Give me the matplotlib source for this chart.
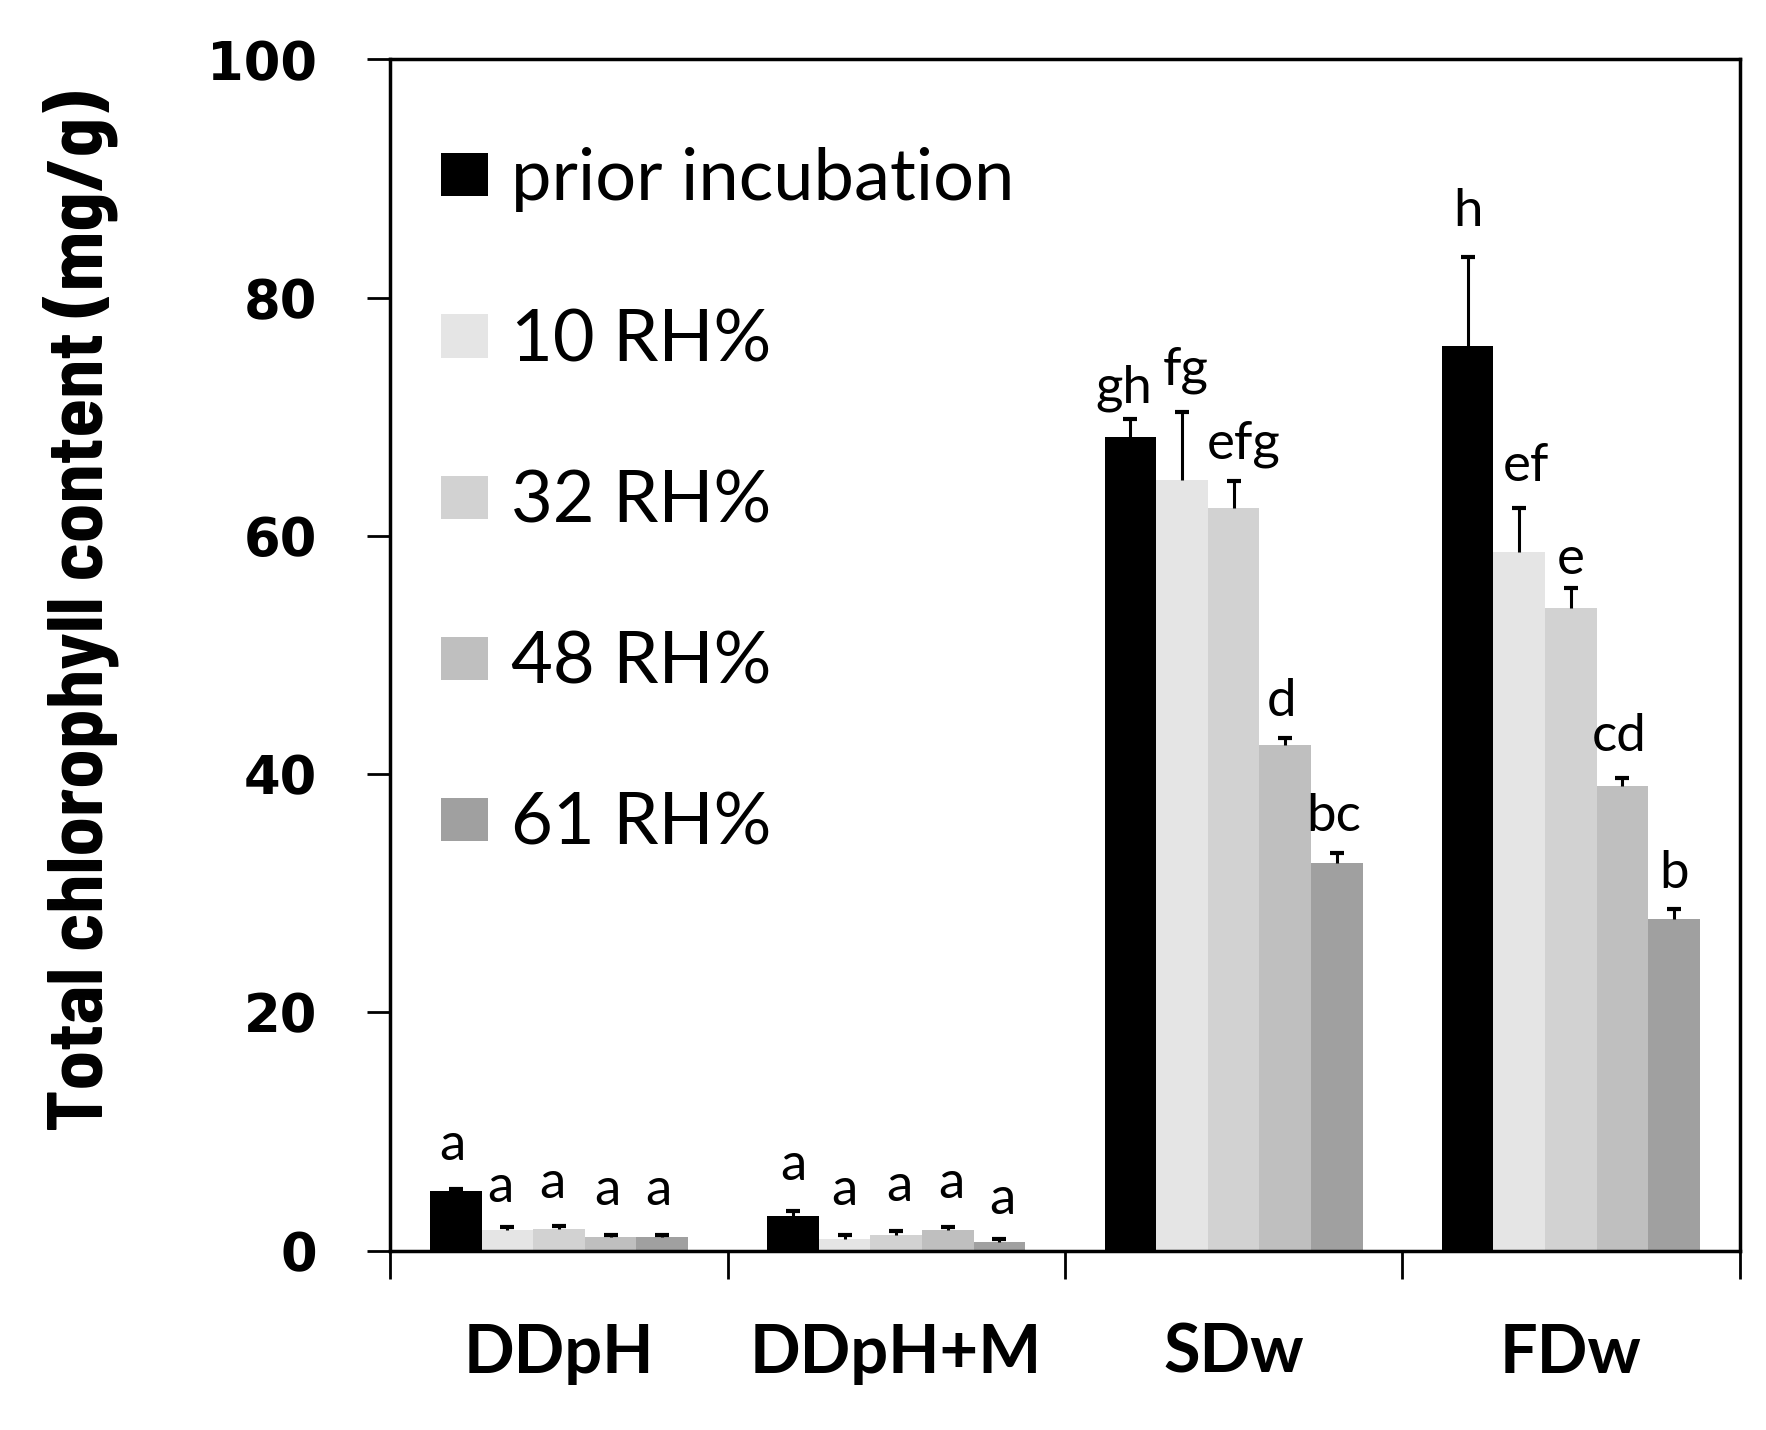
import numpy as np
import matplotlib
matplotlib.use("Agg")
import matplotlib.pyplot as plt
from matplotlib import font_manager
from matplotlib.patches import Patch

# data
groups = ["DDpH", "DDpH+M", "SDw", "FDw"]
series = ["prior incubation", "10 RH%", "32 RH%", "48 RH%", "61 RH%"]
colors = ["#000000", "#e5e5e5", "#d2d2d2", "#bfbfbf", "#a0a0a0"]

prior = [5.0, 2.9, 68.3, 75.9]
rh10 = [1.7, 1.0, 64.7, 58.6]
rh32 = [1.8, 1.3, 62.3, 53.9]
rh48 = [1.1, 1.7, 42.4, 39.0]
rh61 = [1.1, 0.7, 32.5, 27.8]

prior_err = [0.2, 0.4, 1.5, 7.5]
rh10_err = [0.3, 0.3, 5.7, 3.7]
rh32_err = [0.3, 0.3, 2.3, 1.7]
rh48_err = [0.2, 0.3, 0.6, 0.7]
rh61_err = [0.2, 0.3, 0.9, 0.9]

# significance letters, one row per series
prior_let = ["a", "a", "gh", "h"]
rh10_let = ["a", "a", "fg", "ef"]
rh32_let = ["a", "a", "efg", "e"]
rh48_let = ["a", "a", "d", "cd"]
rh61_let = ["a", "a", "bc", "b"]

values = [prior, rh10, rh32, rh48, rh61]
errors = [prior_err, rh10_err, rh32_err, rh48_err, rh61_err]
letters = [prior_let, rh10_let, rh32_let, rh48_let, rh61_let]

# gap between error bar top and letter baseline (data units)
letter_gap = [
    [2.4, 2.6, 1.4, 2.6],
    [2.1, 2.5, 2.3, 2.3],
    [2.3, 2.6, 1.9, 1.2],
    [2.5, 2.4, 1.9, 2.2],
    [2.5, 2.1, 1.8, 1.7],
]
# small sideways nudges of the letters (fraction of a group)
letter_dx = [
    [-0.01, 0.0, -0.02, 0.0],
    [-0.02, 0.0, 0.01, 0.02],
    [-0.02, 0.01, 0.03, 0.0],
    [-0.01, 0.01, -0.01, -0.01],
    [-0.01, 0.01, -0.01, 0.0],
]


def pick(names, fallback):
    have = {f.name for f in font_manager.fontManager.ttflist}
    for n in names:
        if n in have:
            return n
    return fallback


body = "Lato"
narrow = pick(["Barlow Semi Condensed", "Archivo Narrow"], "Lato")

fig = plt.figure(figsize=(17.66, 14.3), dpi=100)
ax = fig.add_axes([0.221, 0.1255, 0.764, 0.833])

x = np.arange(len(groups))
width = 0.153
for i in range(len(series)):
    pos = x + (i - 2) * width
    ax.bar(pos, values[i], width, color=colors[i], label=series[i], zorder=2)
    eb = ax.errorbar(pos, values[i], yerr=[np.zeros(len(groups)), errors[i]],
                     fmt="none", ecolor="black", elinewidth=2.2, capsize=5,
                     capthick=3, zorder=3)
    eb[1][0].set_visible(False)
    for j in range(len(groups)):
        ax.text(pos[j] + letter_dx[i][j],
                values[i][j] + errors[i][j] + letter_gap[i][j],
                letters[i][j], ha="center", va="baseline",
                fontsize=38, family=body)

ax.set_xlim(-0.5, len(groups) - 0.5)
ax.set_ylim(0, 100)
ax.set_yticks(np.arange(0, 101, 20))
ax.tick_params(axis="y", direction="out", length=16.5, width=2, pad=36,
               labelsize=38)
for lab in ax.get_yticklabels():
    lab.set_fontweight("bold")
    lab.set_family("DejaVu Sans")

ax.set_xticks(x)
ax.set_xticklabels(groups, fontsize=48, fontweight="bold", family=body)
ax.set_xticks(np.arange(-0.5, len(groups)), minor=True)
ax.tick_params(axis="x", which="major", length=0, pad=52)
ax.tick_params(axis="x", which="minor", direction="out", length=20, width=2)

for sp in ax.spines.values():
    sp.set_linewidth(2.5)

ylab = fig.text(0.046, 0.573, "Total chlorophyll content (mg/g)", rotation=90,
                ha="center", va="center", fontsize=56, fontweight="bold",
                family=narrow)
# size the axis title so that it spans the same length as in the chart
fig.canvas.draw()
span = ylab.get_window_extent().height
ylab.set_fontsize(56 * 1041 / span)

handles = [Patch(facecolor=c, edgecolor="none") for c in colors]
ax.legend(handles, series, loc="upper left", bbox_to_anchor=(0.0378, 0.926),
          frameon=False, borderpad=0, borderaxespad=0,
          prop={"family": body, "size": 52}, handlelength=0.65,
          handleheight=0.54, handletextpad=0.32, labelspacing=1.33)

fig.savefig("out.png", dpi=100)
